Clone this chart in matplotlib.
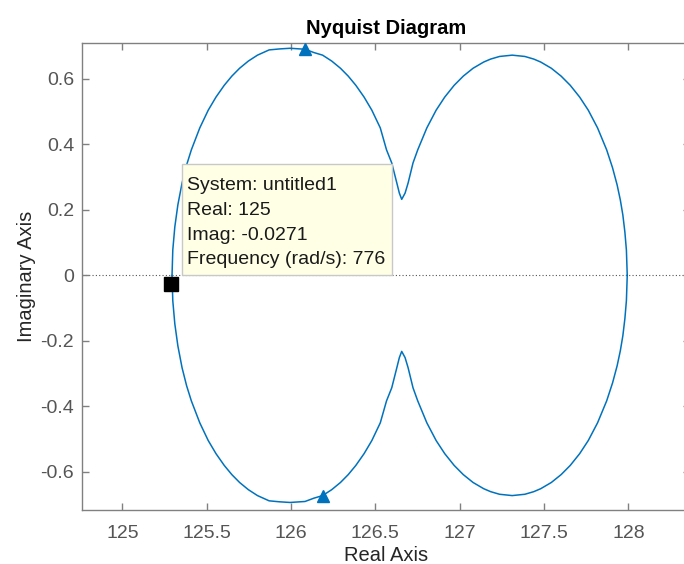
import numpy as np
import matplotlib
matplotlib.use("Agg")
import matplotlib.pyplot as plt
from matplotlib.patches import Rectangle

plt.rcParams['font.family'] = ['Liberation Sans', 'DejaVu Sans']

# Upper half of the Nyquist curve (positive frequencies)
real_pos = [125.2945, 125.299, 125.311, 125.329, 125.354, 125.381, 125.409, 125.459,
            125.509, 125.555, 125.604, 125.649, 125.695, 125.747, 125.801, 125.870,
            125.932, 125.994, 126.083, 126.135, 126.187, 126.241, 126.293, 126.339,
            126.384, 126.433, 126.479, 126.529, 126.566, 126.597, 126.627, 126.642,
            126.656, 126.676, 126.694, 126.723, 126.751, 126.805, 126.860, 126.911,
            126.967, 127.021, 127.079, 127.142, 127.183, 127.236, 127.311, 127.386,
            127.439, 127.480, 127.543, 127.601, 127.655, 127.711, 127.762, 127.817,
            127.871, 127.906, 127.933, 127.952, 127.967, 127.979, 127.988, 127.993]
imag_pos = [0.000, 0.0775, 0.148, 0.215, 0.282, 0.337, 0.383, 0.450,
            0.504, 0.544, 0.580, 0.608, 0.632, 0.654, 0.672, 0.688,
            0.691, 0.693, 0.690, 0.680, 0.672, 0.654, 0.632, 0.608,
            0.580, 0.544, 0.504, 0.450, 0.383, 0.343, 0.282, 0.251,
            0.232, 0.251, 0.282, 0.343, 0.383, 0.450, 0.504, 0.544,
            0.580, 0.608, 0.632, 0.651, 0.660, 0.668, 0.672, 0.668,
            0.660, 0.651, 0.632, 0.608, 0.580, 0.544, 0.504, 0.450,
            0.383, 0.328, 0.276, 0.230, 0.184, 0.132, 0.077, 0.000]

# Data tip
tip_real = 125.29
tip_imag = -0.0271
tip_lines = ["System: untitled1", "Real: 125", "Imag: -0.0271", "Frequency (rad/s): 776"]

# Arrow positions (indices into the curve)
arrow_top_idx = 18
arrow_bot_idx = 20

xticks = [125, 125.5, 126, 126.5, 127, 127.5, 128]
xticklabels = ["125", "125.5", "126", "126.5", "127", "127.5", "128"]
yticks = [-0.6, -0.4, -0.2, 0, 0.2, 0.4, 0.6]
yticklabels = ["-0.6", "-0.4", "-0.2", "0", "0.2", "0.4", "0.6"]

W, H = 684, 564
fig = plt.figure(figsize=(W / 100, H / 100), dpi=100)
ax_l, ax_r, ax_t, ax_b = 81.7, 690.0, 42.7, 510.0
ax = fig.add_axes([ax_l / W, (H - ax_b) / H, (ax_r - ax_l) / W, (ax_b - ax_t) / H])

blue = '#0072BD'
rp = np.array(real_pos)
ip = np.array(imag_pos)
ax.plot(rp, ip, color=blue, lw=1.1, zorder=3)
ax.plot(rp, -ip, color=blue, lw=1.1, zorder=3)

ax.plot([rp[arrow_top_idx]], [ip[arrow_top_idx]], marker='^', color=blue, ms=8.5, zorder=4, ls='none')
ax.plot([rp[arrow_bot_idx]], [-ip[arrow_bot_idx]], marker='^', color=blue, ms=8.5, zorder=4, ls='none')

ax.axhline(0, color='#555555', lw=0.8, ls=(0, (1, 2)), zorder=1)

ax.set_xlim(124.759, 128.365)
ax.set_ylim(-0.716, 0.710)
ax.set_xticks(xticks)
ax.set_xticklabels(xticklabels)
ax.set_yticks(yticks)
ax.set_yticklabels(yticklabels)

grey = '#808080'
for s in ax.spines.values():
    s.set_color(grey)
    s.set_linewidth(1.0)
ax.tick_params(direction='in', length=5, width=1.0, color=grey, labelcolor='#555555',
               labelsize=14, top=True, right=True, pad=5.5)
ax.tick_params(axis='x', pad=10.5)

ax.set_xlabel("Real Axis", fontsize=14.5, color='#262626', labelpad=3)
ax.set_ylabel("Imaginary Axis", fontsize=14.5, color='#262626', labelpad=3)
ax.set_title("Nyquist Diagram", fontsize=14.5, fontweight='bold', color='black', pad=6)

# Data tip marker
ax.plot([tip_real], [tip_imag], marker='s', color='black', ms=10.5, zorder=6, ls='none')

# Tooltip box (axes fraction)
bx0 = (181.7 - ax_l) / (ax_r - ax_l)
bx1 = (392.3 - ax_l) / (ax_r - ax_l)
by0 = (ax_b - 275.0) / (ax_b - ax_t)
by1 = (ax_b - 164.3) / (ax_b - ax_t)
ax.add_patch(Rectangle((bx0, by0), bx1 - bx0, by1 - by0, transform=ax.transAxes,
                       facecolor='#FFFFE6', edgecolor='#C8C8C8', lw=1.0, zorder=7))
tx = (187.3 - ax_l) / (ax_r - ax_l)
line_px = [185.5, 210.5, 235.0, 259.0]
for t, py in zip(tip_lines, line_px):
    ax.text(tx, (ax_b - py) / (ax_b - ax_t), t, transform=ax.transAxes, fontsize=14,
            color='#1a1a1a', va='center', ha='left', zorder=8)

fig.savefig("out.png", dpi=100)
